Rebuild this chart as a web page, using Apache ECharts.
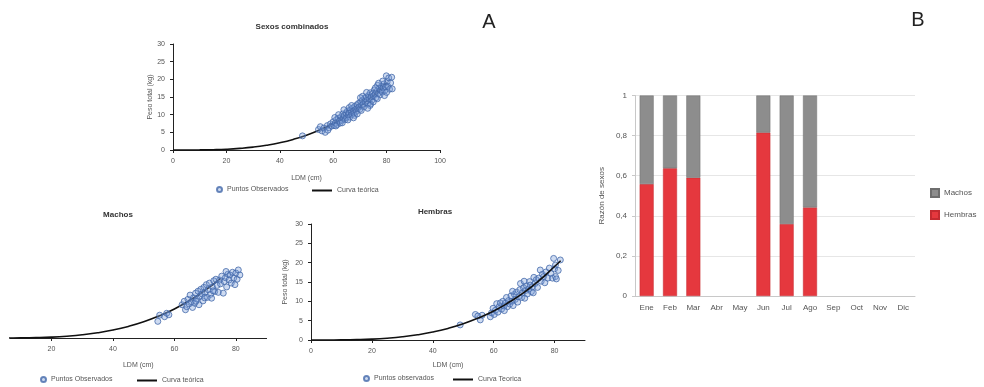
<!DOCTYPE html>
<html>
<head>
<meta charset="utf-8">
<script src="https://cdn.jsdelivr.net/npm/echarts@6/dist/echarts.min.js"></script>
<style>
  html, body { margin: 0; padding: 0; background: #fff; }
  #chart { width: 984px; height: 387px; }
</style>
</head>
<body>
<div id="chart"></div>
<script>
// curva teorica peso-longitud
const curvaL = [0, 5, 10, 15, 20, 25, 30, 35, 40, 45, 50, 55, 60, 65, 70, 75, 80, 82];
const curvaW = [0, 0.003, 0.024, 0.09, 0.22, 0.46, 0.82, 1.35, 2.06, 3.0, 4.2, 5.7, 7.5, 9.75, 12.3, 15.4, 19.0, 20.5];

// puntos observados [LDM, peso]
const ptsCombinados = [
  [48.5,4.0],[54.5,5.8],[55.2,6.6],[55.8,5.4],[56.5,6.2],[57.0,5.0],[57.8,6.9],[58.5,6.3],[59.0,7.4],[59.5,6.8],
  [60.0,8.0],[60.3,6.9],[60.8,7.6],[61.2,8.6],[61.5,7.2],[61.9,9.0],[62.3,8.1],[62.6,7.6],[63.0,9.4],[63.2,8.4],
  [63.6,10.2],[63.9,8.9],[64.2,9.7],[64.5,8.6],[64.8,10.5],[65.0,9.2],[65.3,11.0],[65.6,9.9],[65.9,10.4],[66.2,9.3],
  [66.4,11.4],[66.7,10.8],[67.0,10.1],[67.3,11.9],[67.5,11.0],[67.8,10.4],[68.1,12.3],[68.4,11.5],[68.6,10.9],[68.9,12.8],
  [69.2,11.8],[69.5,13.2],[69.7,12.2],[70.0,11.5],[70.3,13.6],[70.6,12.6],[70.9,14.1],[71.2,13.0],[71.5,12.2],[71.8,14.6],
  [72.1,13.5],[72.4,15.0],[72.7,14.0],[73.0,13.1],[73.3,15.5],[73.6,14.4],[73.9,16.2],[74.2,15.0],[74.5,14.1],[74.8,16.0],
  [75.1,15.3],[75.4,17.0],[75.7,15.8],[76.0,14.8],[76.3,16.6],[76.6,18.3],[76.9,16.0],[77.2,17.4],[77.5,15.6],[77.8,16.9],
  [78.1,18.0],[78.4,16.4],[78.7,17.6],[79.0,18.7],[79.3,16.8],[79.6,17.9],[79.9,21.0],[80.2,19.3],[80.5,18.0],[80.8,20.4],
  [81.1,17.2],[81.5,19.0],[81.9,20.6],[82.1,17.3],[70.5,11.2],[68.0,9.8],[66.0,12.0],[72.5,16.3],[74.0,13.0],[62.0,10.0],
  [64.0,11.4],[65.5,8.5],[61.0,6.8],[76.5,14.5],[78.5,19.5],[75.0,13.6],[63.4,7.7],[66.9,12.6],[69.0,10.2],[71.0,15.2],
  [73.8,12.6],[77.0,18.9],[79.2,15.4],[67.6,9.1],[60.6,9.2],[58.0,5.6],[72.9,11.8],[75.8,17.6],[80.0,16.3],[70.2,14.8]
];
const ptsMachos = [
  [54.6,4.3],[55.2,5.9],[56.8,5.5],[57.5,6.4],[58.2,6.0],[62.5,8.6],[63.2,9.5],[63.6,7.3],[64.0,8.1],[64.4,10.0],
  [64.8,8.8],[65.1,11.1],[65.5,9.4],[65.9,7.9],[66.2,10.4],[66.6,9.0],[66.9,11.6],[67.3,10.1],[67.7,12.1],[68.0,8.6],
  [68.3,10.8],[68.6,12.6],[69.0,11.4],[69.3,9.6],[69.6,13.1],[70.0,11.9],[70.4,13.8],[70.7,10.5],[71.0,12.5],[71.4,14.2],
  [71.8,11.3],[72.1,10.3],[72.4,13.2],[72.8,14.8],[73.1,12.0],[73.5,15.2],[73.9,13.6],[74.3,11.8],[74.7,15.0],[75.0,14.0],
  [75.4,16.0],[75.9,11.6],[76.2,14.6],[76.6,15.6],[77.0,13.2],[77.4,16.5],[77.8,15.0],[78.1,16.3],[78.5,14.2],[78.9,17.0],
  [79.3,15.5],[79.7,13.8],[80.0,16.8],[80.4,15.2],[80.8,17.6],[81.3,16.3],[76.8,17.2],[72.6,12.2],[69.8,10.4],[67.0,9.5]
];
const ptsHembras = [
  [49.0,3.9],[54.0,6.6],[54.8,6.2],[55.6,5.2],[56.2,6.4],[58.9,6.0],[59.3,7.0],[59.8,8.2],[60.2,6.6],[60.6,7.7],
  [61.0,9.4],[61.4,7.2],[61.8,8.6],[62.2,9.6],[62.6,8.0],[63.0,10.0],[63.4,8.8],[63.8,9.5],[64.2,11.0],[64.5,8.6],
  [64.9,10.2],[65.3,9.3],[65.7,11.4],[66.0,10.0],[66.4,8.9],[66.8,11.8],[67.1,10.5],[67.5,12.4],[67.9,9.8],[68.2,11.2],
  [68.6,13.0],[68.8,14.6],[69.2,11.0],[69.5,12.2],[69.8,13.5],[70.2,10.8],[70.5,12.8],[70.8,14.0],[71.1,11.9],[71.5,13.2],
  [71.8,15.1],[72.0,14.2],[72.4,12.5],[72.8,13.8],[73.2,16.2],[73.6,14.6],[74.0,15.6],[74.4,13.6],[74.8,16.0],[75.3,18.1],
  [75.6,15.2],[76.0,17.0],[76.4,16.4],[76.8,14.8],[77.2,17.6],[77.8,16.0],[78.3,18.6],[78.8,17.2],[79.3,16.0],[79.7,21.1],
  [80.0,18.4],[80.3,19.4],[80.3,16.4],[80.6,15.8],[81.2,18.0],[81.9,20.7],[73.0,12.2],[70.0,15.2],[66.2,12.6],[63.5,7.6]
];

// B: proporcion de sexos por mes
const meses = ['Ene', 'Feb', 'Mar', 'Abr', 'May', 'Jun', 'Jul', 'Ago', 'Sep', 'Oct', 'Nov', 'Dic'];
const hembras = [0.558, 0.637, 0.59, null, null, 0.815, 0.359, 0.442, null, null, null, null];
const machos = [0.442, 0.363, 0.41, null, null, 0.185, 0.641, 0.558, null, null, null, null];

function curva(maxL) {
    const out = [];
    for (let i = 0; i < curvaL.length; i++) {
        if (curvaL[i] <= maxL) out.push([curvaL[i], curvaW[i]]);
    }
    return out;
}

const myChart = echarts.init(document.getElementById('chart'));

const txt = '#555';
const fontFam = '"Liberation Sans", Arial, sans-serif';
const axisLbl = {color: txt, fontSize: 7, fontFamily: fontFam, margin: 8};
const darkLine = {lineStyle: {color: '#222', width: 1}};
const ptStyle = {color: 'rgba(120,155,215,0.45)', borderColor: '#4369aa', borderWidth: 1};
const lineStyle = {color: '#111', width: 1.6};

function xAx(grid, min, max, labels, nameGap) {
    return {
        type: 'value', gridIndex: grid, min: min, max: max,
        name: 'LDM (cm)', nameLocation: 'middle', nameGap: nameGap,
        nameTextStyle: {color: txt, fontSize: 7, fontFamily: fontFam},
        axisLine: darkLine,
        axisTick: {show: true, length: 3, customValues: labels, lineStyle: {color: '#222'}},
        axisLabel: Object.assign({customValues: labels}, axisLbl),
        splitLine: {show: false}
    };
}
function yAx(grid, show, nameGap) {
    return {
        type: 'value', gridIndex: grid, min: 0, max: 30, interval: 5, show: show,
        name: 'Peso total (kg)', nameLocation: 'middle', nameGap: nameGap,
        nameTextStyle: {color: txt, fontSize: 7, fontFamily: fontFam},
        axisLine: {show: true, lineStyle: {color: '#222'}},
        axisTick: {show: true, length: 3, lineStyle: {color: '#222'}},
        axisLabel: axisLbl,
        splitLine: {show: false}
    };
}

function legendPair(l1, l2, top, names) {
    return [
        {left: l1, top: top, padding: 0, icon: 'circle', itemWidth: 5, itemHeight: 5, data: [names[0]],
            textStyle: {color: txt, fontSize: 7, fontFamily: fontFam}, selectedMode: false},
        {left: l2, top: top + 1, padding: 0, icon: 'rect', itemWidth: 20, itemHeight: 2, data: [names[1]],
            textStyle: {color: txt, fontSize: 7, fontFamily: fontFam}, selectedMode: false}
    ];
}

const option = {
    backgroundColor: '#fff',
    animation: false,
    grid: [
        {left: 173, top: 44, width: 267, height: 106},
        {left: 10, top: 222, width: 256.6, height: 116},
        {left: 311, top: 224, width: 274, height: 116},
        {left: 635, top: 95.5, width: 280, height: 200.5}
    ],
    xAxis: [
        xAx(0, 0, 100, [0, 20, 40, 60, 80, 100], 25),
        xAx(1, 6.5, 90, [20, 40, 60, 80], 24),
        xAx(2, 0, 90, [0, 20, 40, 60, 80], 22),
        {
            type: 'category', gridIndex: 3, data: meses,
            axisLine: {lineStyle: {color: '#c8c8c8'}},
            axisTick: {show: false},
            axisLabel: {color: txt, fontSize: 8, fontFamily: fontFam, margin: 8}
        }
    ],
    yAxis: [
        yAx(0, true, 19),
        yAx(1, false, 19),
        yAx(2, true, 22),
        {
            type: 'value', gridIndex: 3, min: 0, max: 1, interval: 0.2,
            name: 'Razón de sexos', nameLocation: 'middle', nameGap: 29,
            nameTextStyle: {color: txt, fontSize: 8, fontFamily: fontFam},
            axisLine: {show: true, lineStyle: {color: '#c8c8c8'}},
            axisTick: {show: true, length: 3, lineStyle: {color: '#c8c8c8'}},
            axisLabel: {color: txt, fontSize: 8, fontFamily: fontFam, margin: 8,
                formatter: v => String(Math.round(v * 10) / 10).replace('.', ',')},
            splitLine: {lineStyle: {color: '#e6e6e6'}}
        }
    ],
    legend: [].concat(
        legendPair(216, 312, 186, ['Puntos Observados', 'Curva teórica']),
        legendPair(40, 137, 376, ['Puntos Observados ', 'Curva teórica ']),
        legendPair(363, 453, 375, ['Puntos observados', 'Curva Teorica']),
        [{
            left: 930, top: 188, padding: 0, orient: 'vertical', itemWidth: 8, itemHeight: 8, itemGap: 12,
            icon: 'rect', data: ['Machos', 'Hembras'], selectedMode: false,
            textStyle: {color: txt, fontSize: 8, fontFamily: fontFam}
        }]
    ),
    graphic: [
        {type: 'text', x: 292, y: 23, style: {text: 'Sexos combinados', align: 'center', fill: '#333', font: 'bold 8px ' + fontFam}},
        {type: 'text', x: 118, y: 211, style: {text: 'Machos', align: 'center', fill: '#333', font: 'bold 8px ' + fontFam}},
        {type: 'text', x: 435, y: 208, style: {text: 'Hembras', align: 'center', fill: '#333', font: 'bold 8px ' + fontFam}},
        {type: 'text', x: 489, y: 12, style: {text: 'A', align: 'center', fill: '#222', font: '20px ' + fontFam}},
        {type: 'text', x: 918, y: 10, style: {text: 'B', align: 'center', fill: '#222', font: '20px ' + fontFam}}
    ],
    series: [
        {name: 'Curva teórica', type: 'line', xAxisIndex: 0, yAxisIndex: 0, data: curva(81), smooth: true,
            symbol: 'none', lineStyle: lineStyle, itemStyle: {color: '#111'}, z: 2},
        {name: 'Puntos Observados', type: 'scatter', xAxisIndex: 0, yAxisIndex: 0, data: ptsCombinados,
            symbolSize: 6, itemStyle: ptStyle, z: 3},
        {name: 'Curva teórica ', type: 'line', xAxisIndex: 1, yAxisIndex: 1, data: curva(75), smooth: true,
            symbol: 'none', lineStyle: lineStyle, itemStyle: {color: '#111'}, z: 2},
        {name: 'Puntos Observados ', type: 'scatter', xAxisIndex: 1, yAxisIndex: 1, data: ptsMachos,
            symbolSize: 6, itemStyle: ptStyle, z: 3},
        {name: 'Curva Teorica', type: 'line', xAxisIndex: 2, yAxisIndex: 2, data: curva(82), smooth: true,
            symbol: 'none', lineStyle: lineStyle, itemStyle: {color: '#111'}, z: 4},
        {name: 'Puntos observados', type: 'scatter', xAxisIndex: 2, yAxisIndex: 2, data: ptsHembras,
            symbolSize: 6, itemStyle: ptStyle, z: 3},
        {name: 'Hembras', type: 'bar', stack: 'sexo', xAxisIndex: 3, yAxisIndex: 3, data: hembras,
            barWidth: 14, itemStyle: {color: '#e5383e', borderColor: '#c42a30', borderWidth: 0.5}},
        {name: 'Machos', type: 'bar', stack: 'sexo', xAxisIndex: 3, yAxisIndex: 3, data: machos,
            barWidth: 14, itemStyle: {color: '#8d8d8d', borderColor: '#6e6e6e', borderWidth: 0.5}}
    ]
};

myChart.setOption(option);
</script>
</body>
</html>
